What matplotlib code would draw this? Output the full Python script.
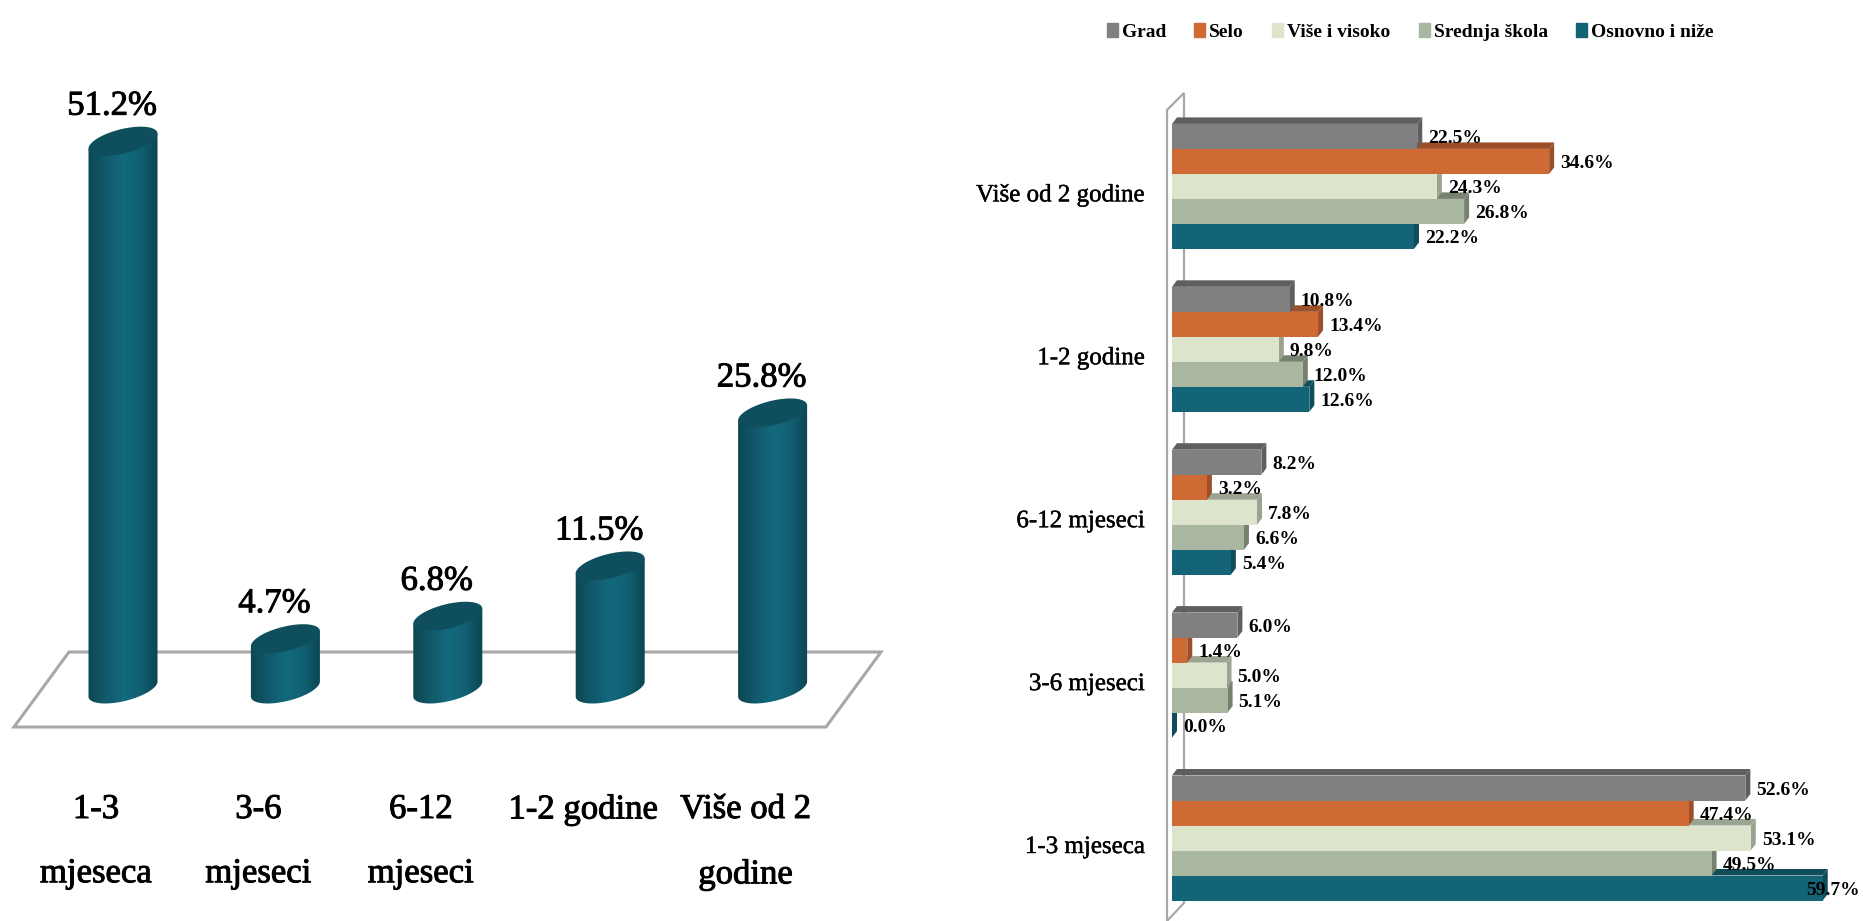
import numpy as np
import matplotlib
matplotlib.use("Agg")
import matplotlib.pyplot as plt
import matplotlib.patheffects as pe
from matplotlib.colors import LinearSegmentedColormap
from matplotlib.patches import Polygon
from matplotlib.path import Path
from matplotlib.transforms import IdentityTransform

plt.rcParams['font.family'] = ['Liberation Serif', 'DejaVu Serif']

# left chart
periods = ["1-3\nmjeseca", "3-6\nmjeseci", "6-12\nmjeseci", "1-2 godine", "Više od 2\ngodine"]
totals = [51.2, 4.7, 6.8, 11.5, 25.8]

# right chart
groups = ["1-3 mjeseca", "3-6 mjeseci", "6-12 mjeseci", "1-2 godine", "Više od 2 godine"]
series_names = ["Grad", "Selo", "Više i visoko", "Srednja škola", "Osnovno i niže"]
grad = [52.6, 6.0, 8.2, 10.8, 22.5]
selo = [47.4, 1.4, 3.2, 13.4, 34.6]
visoko = [53.1, 5.0, 7.8, 9.8, 24.3]
srednja = [49.5, 5.1, 6.6, 12.0, 26.8]
osnovno = [59.7, 0.0, 5.4, 12.6, 22.2]
series = [grad, selo, visoko, srednja, osnovno]
front_colors = ["#808080", "#d06a35", "#dde4cc", "#a9b7a1", "#136476"]
dark_colors = ["#5f5f5f", "#9c4f28", "#9ba391", "#76826f", "#0f4d5b"]

W, H = 1863, 921
fig = plt.figure(figsize=(W / 100, H / 100), dpi=100)
heavy = [pe.withStroke(linewidth=0.7, foreground='black')]
light = [pe.withStroke(linewidth=0.3, foreground='black')]


def px(x, y):
    # picture pixels (y down) to display coords
    return (x, H - y)


# LEFT
ax1 = fig.add_axes([0, 0, 930 / W, 1])
ax1.set_xlim((0 - 123) / 162.4, (930 - 123) / 162.4)
ax1.set_ylim((689 - 921) / 10.7, 689 / 10.7)
ax1.axis('off')

floor = [px(14, 727), px(69, 652), px(881, 652), px(826, 727)]
ax1.add_patch(Polygon(floor, closed=True, fc='white', ec='#a8a8a8', lw=2.2,
                      transform=IdentityTransform(), zorder=1))

teal = LinearSegmentedColormap.from_list("teal", ["#0e4653", "#11596a", "#13697d", "#116072", "#0c4351"])
rx, ry, skew = 34.5, 12.4, 7.5
t = np.linspace(0, 2 * np.pi, 120)
for i, v in enumerate(totals):
    cx, y0 = ax1.transData.transform((i, 0))
    _, y1 = ax1.transData.transform((i, v))
    # lower half of the base ellipse plus the sides
    low = np.linspace(np.pi, 2 * np.pi, 60)
    xs = cx + rx * np.cos(low)
    ys = y0 + ry * np.sin(low) + skew * np.cos(low)
    outline = list(zip(xs, ys)) + [(cx + rx, y1 + skew), (cx - rx, y1 - skew)]
    im = ax1.imshow(np.linspace(0, 1, 80)[None, :], cmap=teal, aspect='auto',
                    extent=(i - 0.22, i + 0.22, -3, v + 3), zorder=2)
    im.set_clip_path(Path(outline + [outline[0]]), IdentityTransform())
    top = np.column_stack([cx + rx * np.cos(t), y1 + ry * np.sin(t) + skew * np.cos(t)])
    ax1.add_patch(Polygon(top, closed=True, fc='#0f4f5d', ec='none',
                          transform=IdentityTransform(), zorder=3))
    ax1.annotate(f"{v}%", xy=(i, v), xytext=(-11, 35), textcoords='offset pixels',
                 ha='center', va='center', fontsize=25, zorder=4, path_effects=heavy)
    ax1.annotate(periods[i], xy=(i, 0), xytext=(-27, -104), textcoords='offset pixels',
                 ha='center', va='top', fontsize=25, linespacing=2.25, zorder=4, path_effects=heavy)

# RIGHT
x0, x1 = 930, W
ax2 = fig.add_axes([x0 / W, 0, (x1 - x0) / W, 1])
ax2.set_xlim((x0 - 1172) / 10.9, (x1 - 1172) / 10.9)
ax2.set_ylim((838 - 921) / 162.9, 838 / 162.9)
ax2.axis('off')

wall = [px(1167, 110), px(1184, 93), px(1184, 903), px(1167, 921)]
ax2.add_patch(Polygon(wall, closed=True, fc='white', ec='#a8a8a8', lw=1.6,
                      transform=IdentityTransform(), zorder=1))

row = 25 / 162.9
dx, dy = 5 / 10.9, 6.5 / 162.9
z = 2
for i in range(len(groups)):
    # lower rows first, the row above hides their top face
    for j in reversed(range(len(series))):
        v = series[j][i]
        yc = i + (2 - j) * row
        top_y, bot_y = yc + row / 2, yc - row / 2
        ax2.add_patch(Polygon([(0, top_y), (dx, top_y + dy), (v + dx, top_y + dy), (v, top_y)],
                              closed=True, fc=dark_colors[j], ec='none', zorder=z))
        ax2.add_patch(Polygon([(v, top_y), (v + dx, top_y + dy), (v + dx, bot_y + dy), (v, bot_y)],
                              closed=True, fc=dark_colors[j], ec='none', zorder=z))
        ax2.barh(yc, v, height=row, color=front_colors[j], zorder=z)
        z += 1

for i in range(len(groups)):
    ax2.annotate(groups[i], xy=(0, i), xytext=(-27, -9), textcoords='offset pixels',
                 ha='right', va='center', fontsize=18, zorder=200, path_effects=light)
    for j in range(len(series)):
        v = series[j][i]
        yc = i + (2 - j) * row
        if v == max(osnovno):
            ax2.annotate(f"{v:.1f}%", xy=(v, yc), xytext=(37, -2), textcoords='offset pixels',
                         ha='right', va='center', fontsize=14, fontweight='bold', zorder=200)
        else:
            ax2.annotate(f"{v:.1f}%", xy=(v, yc), xytext=(11, -2), textcoords='offset pixels',
                         ha='left', va='center', fontsize=14, fontweight='bold', zorder=200)

handles = [plt.Rectangle((0, 0), 1, 1, color=c) for c in front_colors]
fig.legend(handles, series_names, ncols=5, frameon=False, loc='center',
           bbox_to_anchor=(1410 / W, 1 - 32 / H), prop={'size': 14, 'weight': 'bold'},
           handlelength=0.57, handleheight=0.72, handletextpad=0.2, columnspacing=1.45)

fig.savefig("out.png", dpi=100)
